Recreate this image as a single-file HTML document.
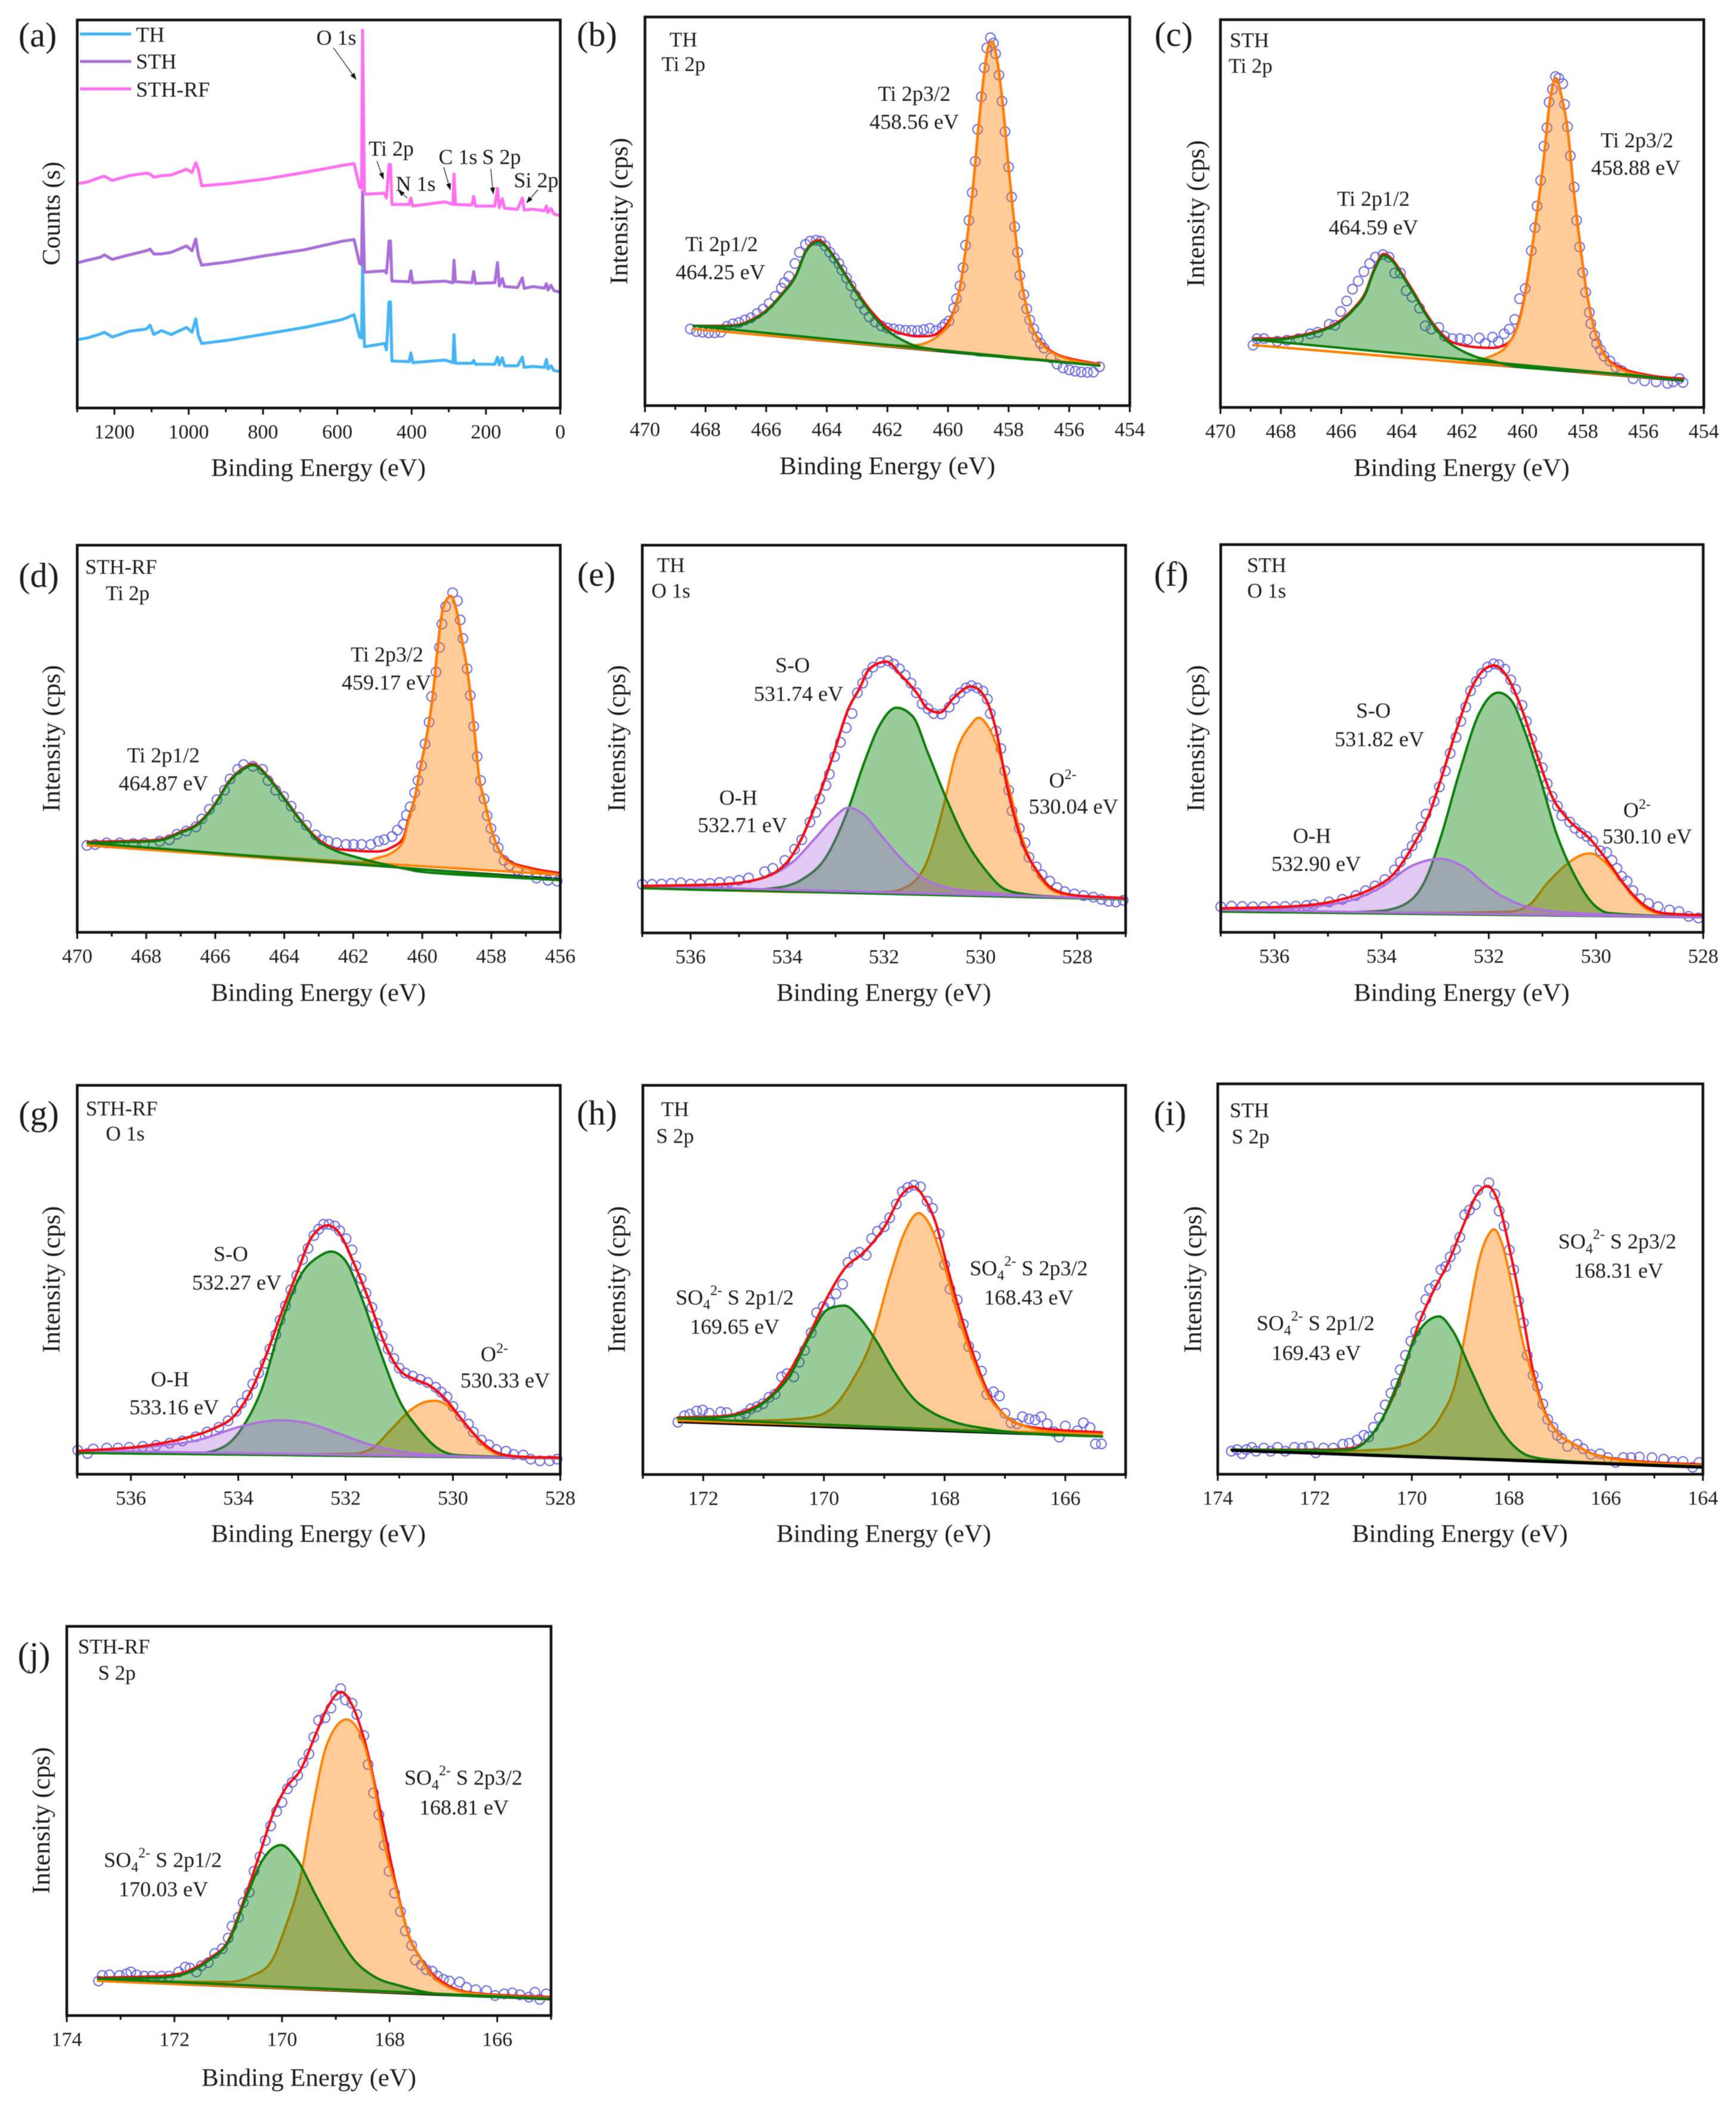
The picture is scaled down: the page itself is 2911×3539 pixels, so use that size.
<!DOCTYPE html>
<html lang="en">
<head>
<meta charset="utf-8">
<title>XPS spectra of TH, STH and STH-RF</title>
<style>
html,body{margin:0;padding:0;background:#fff;}
svg{display:block;filter:blur(0.6px);}
text{font-family:"Liberation Serif",serif;fill:#1c1c1c;}
.ann{font-size:36px;text-anchor:middle;}
.hdr{font-size:35px;text-anchor:middle;}
.ltr{font-size:58px;text-anchor:middle;}
.ttl{font-size:42px;text-anchor:middle;}
.tick{font-size:34px;text-anchor:middle;}
.leg{font-size:36px;}
.sm{font-size:24px;}
.arrow{stroke:#333;stroke-width:1.4;marker-end:url(#arrow-head);}
</style>
</head>
<body>
<svg id="figure" xmlns="http://www.w3.org/2000/svg" width="2911" height="3539" viewBox="0 0 2911 3539">
<defs><marker id="arrow-head" markerWidth="8" markerHeight="6" refX="7.5" refY="3" orient="auto"><path d="M0 0L8 3L0 6z" fill="#111"/></marker></defs>
<rect width="2911" height="3539" fill="#fff"/>
<g id="marks"></g>

<g>
<text class="ltr" x="63" y="78">(a)</text>
<text class="ltr" x="1001" y="77">(b)</text>
<text class="ltr" x="1968" y="77">(c)</text>
<text class="ltr" x="65" y="984">(d)</text>
<text class="ltr" x="1000" y="982">(e)</text>
<text class="ltr" x="1964" y="982">(f)</text>
<text class="ltr" x="65" y="1886">(g)</text>
<text class="ltr" x="1001" y="1885">(h)</text>
<text class="ltr" x="1962" y="1886">(i)</text>
<text class="ltr" x="57" y="2793">(j)</text>
</g>

<g>
<text class="ttl" x="534" y="798" textLength="360" lengthAdjust="spacingAndGlyphs">Binding Energy (eV)</text>
<text class="ttl" x="1488" y="795" textLength="362" lengthAdjust="spacingAndGlyphs">Binding Energy (eV)</text>
<text class="ttl" x="2451" y="798" textLength="362" lengthAdjust="spacingAndGlyphs">Binding Energy (eV)</text>
<text class="ttl" x="534" y="1678" textLength="360" lengthAdjust="spacingAndGlyphs">Binding Energy (eV)</text>
<text class="ttl" x="1482" y="1678" textLength="360" lengthAdjust="spacingAndGlyphs">Binding Energy (eV)</text>
<text class="ttl" x="2451" y="1678" textLength="362" lengthAdjust="spacingAndGlyphs">Binding Energy (eV)</text>
<text class="ttl" x="534" y="2585" textLength="360" lengthAdjust="spacingAndGlyphs">Binding Energy (eV)</text>
<text class="ttl" x="1482" y="2585" textLength="360" lengthAdjust="spacingAndGlyphs">Binding Energy (eV)</text>
<text class="ttl" x="2448" y="2585" textLength="362" lengthAdjust="spacingAndGlyphs">Binding Energy (eV)</text>
<text class="ttl" x="518" y="3497" textLength="360" lengthAdjust="spacingAndGlyphs">Binding Energy (eV)</text>
</g>

<g>
<text class="ttl" transform="translate(100 358) rotate(-90)" textLength="174" lengthAdjust="spacingAndGlyphs">Counts (s)</text>
<text class="ttl" transform="translate(1052 354) rotate(-90)" textLength="246" lengthAdjust="spacingAndGlyphs">Intensity (cps)</text>
<text class="ttl" transform="translate(2019 358) rotate(-90)" textLength="246" lengthAdjust="spacingAndGlyphs">Intensity (cps)</text>
<text class="ttl" transform="translate(100 1238) rotate(-90)" textLength="246" lengthAdjust="spacingAndGlyphs">Intensity (cps)</text>
<text class="ttl" transform="translate(1048 1238) rotate(-90)" textLength="246" lengthAdjust="spacingAndGlyphs">Intensity (cps)</text>
<text class="ttl" transform="translate(2019 1238) rotate(-90)" textLength="246" lengthAdjust="spacingAndGlyphs">Intensity (cps)</text>
<text class="ttl" transform="translate(100 2145) rotate(-90)" textLength="246" lengthAdjust="spacingAndGlyphs">Intensity (cps)</text>
<text class="ttl" transform="translate(1048 2145) rotate(-90)" textLength="246" lengthAdjust="spacingAndGlyphs">Intensity (cps)</text>
<text class="ttl" transform="translate(2014 2145) rotate(-90)" textLength="246" lengthAdjust="spacingAndGlyphs">Intensity (cps)</text>
<text class="ttl" transform="translate(83 3052) rotate(-90)" textLength="246" lengthAdjust="spacingAndGlyphs">Intensity (cps)</text>
</g>

<g>
<line x1="134" y1="57" x2="220" y2="57" stroke="#45b4f5" stroke-width="5"/>
<text class="leg" x="228" y="70">TH</text>
<line x1="134" y1="103" x2="220" y2="103" stroke="#a86fd8" stroke-width="5"/>
<text class="leg" x="228" y="115">STH</text>
<line x1="134" y1="149" x2="220" y2="149" stroke="#ff6ff0" stroke-width="5"/>
<text class="leg" x="228" y="162">STH-RF</text>
</g>

<g>
<text class="ann" x="564" y="75">O 1s</text>
<line class="arrow" x1="559" y1="80" x2="597" y2="133"/>
<text class="ann" x="656" y="261">Ti 2p</text>
<line class="arrow" x1="632" y1="270" x2="643" y2="300"/>
<text class="ann" x="697" y="320">N 1s</text>
<line class="arrow" x1="683" y1="332" x2="668" y2="319"/>
<text class="ann" x="768" y="275">C 1s</text>
<line class="arrow" x1="744" y1="280" x2="755" y2="318"/>
<text class="ann" x="841" y="275">S 2p</text>
<line class="arrow" x1="823" y1="283" x2="827" y2="325"/>
<text class="ann" x="899" y="314">Si 2p</text>
<line class="arrow" x1="902" y1="318" x2="883" y2="340"/>
</g>

<g>
<text class="hdr" x="1146" y="78">TH</text>
<text class="hdr" x="1146" y="119">Ti 2p</text>
<text class="ann" x="1533" y="169">Ti 2p3/2</text>
<text class="ann" x="1533" y="216">458.56 eV</text>
<text class="ann" x="1210" y="421">Ti 2p1/2</text>
<text class="ann" x="1208" y="468">464.25 eV</text>
</g>
<g>
<text class="hdr" x="2095" y="79">STH</text>
<text class="hdr" x="2097" y="122">Ti 2p</text>
<text class="ann" x="2745" y="247">Ti 2p3/2</text>
<text class="ann" x="2743" y="293">458.88 eV</text>
<text class="ann" x="2303" y="345">Ti 2p1/2</text>
<text class="ann" x="2303" y="393">464.59 eV</text>
</g>
<g>
<text class="hdr" x="203" y="962">STH-RF</text>
<text class="hdr" x="214" y="1006">Ti 2p</text>
<text class="ann" x="649" y="1109">Ti 2p3/2</text>
<text class="ann" x="648" y="1156">459.17 eV</text>
<text class="ann" x="274" y="1278">Ti 2p1/2</text>
<text class="ann" x="274" y="1325">464.87 eV</text>
</g>
<g>
<text class="hdr" x="1125" y="959">TH</text>
<text class="hdr" x="1125" y="1002">O 1s</text>
<text class="ann" x="1329" y="1127">S-O</text>
<text class="ann" x="1339" y="1175">531.74 eV</text>
<text class="ann" x="1238" y="1349">O-H</text>
<text class="ann" x="1245" y="1395">532.71 eV</text>
<text class="ann" x="1782" y="1320">O<tspan class="sm" dy="-14">2-</tspan></text>
<text class="ann" x="1800" y="1364">530.04 eV</text>
</g>
<g>
<text class="hdr" x="2124" y="959">STH</text>
<text class="hdr" x="2124" y="1002">O 1s</text>
<text class="ann" x="2303" y="1203">S-O</text>
<text class="ann" x="2313" y="1251">531.82 eV</text>
<text class="ann" x="2200" y="1413">O-H</text>
<text class="ann" x="2207" y="1460">532.90 eV</text>
<text class="ann" x="2745" y="1370">O<tspan class="sm" dy="-14">2-</tspan></text>
<text class="ann" x="2762" y="1414">530.10 eV</text>
</g>
<g>
<text class="hdr" x="204" y="1870">STH-RF</text>
<text class="hdr" x="210" y="1912">O 1s</text>
<text class="ann" x="387" y="2114">S-O</text>
<text class="ann" x="397" y="2162">532.27 eV</text>
<text class="ann" x="285" y="2324">O-H</text>
<text class="ann" x="292" y="2371">533.16 eV</text>
<text class="ann" x="829" y="2282">O<tspan class="sm" dy="-14">2-</tspan></text>
<text class="ann" x="847" y="2326">530.33 eV</text>
</g>
<g>
<text class="hdr" x="1132" y="1871">TH</text>
<text class="hdr" x="1132" y="1916">S 2p</text>
<text class="ann" x="1725" y="2138">SO<tspan class="sm" dy="8">4</tspan><tspan class="sm" dy="-24">2-</tspan><tspan dy="16"> S 2p3/2</tspan></text>
<text class="ann" x="1725" y="2187">168.43 eV</text>
<text class="ann" x="1232" y="2187">SO<tspan class="sm" dy="8">4</tspan><tspan class="sm" dy="-24">2-</tspan><tspan dy="16"> S 2p1/2</tspan></text>
<text class="ann" x="1232" y="2236">169.65 eV</text>
</g>
<g>
<text class="hdr" x="2095" y="1873">STH</text>
<text class="hdr" x="2097" y="1917">S 2p</text>
<text class="ann" x="2712" y="2093">SO<tspan class="sm" dy="8">4</tspan><tspan class="sm" dy="-24">2-</tspan><tspan dy="16"> S 2p3/2</tspan></text>
<text class="ann" x="2714" y="2142">168.31 eV</text>
<text class="ann" x="2206" y="2230">SO<tspan class="sm" dy="8">4</tspan><tspan class="sm" dy="-24">2-</tspan><tspan dy="16"> S 2p1/2</tspan></text>
<text class="ann" x="2207" y="2280">169.43 eV</text>
</g>
<g>
<text class="hdr" x="191" y="2772">STH-RF</text>
<text class="hdr" x="196" y="2816">S 2p</text>
<text class="ann" x="777" y="2992">SO<tspan class="sm" dy="8">4</tspan><tspan class="sm" dy="-24">2-</tspan><tspan dy="16"> S 2p3/2</tspan></text>
<text class="ann" x="778" y="3042">168.81 eV</text>
<text class="ann" x="273" y="3130">SO<tspan class="sm" dy="8">4</tspan><tspan class="sm" dy="-24">2-</tspan><tspan dy="16"> S 2p1/2</tspan></text>
<text class="ann" x="274" y="3179">170.03 eV</text>
</g>
</svg>

<script>
// ---- Tick labels ----
const aTicks=[1200,1000,800,600,400,200,0];
const bTicks=[470,468,466,464,462,460,458,456,454];
const cTicks=[470,468,466,464,462,460,458,456,454];
const dTicks=[470,468,466,464,462,460,458,456];
const eTicks=[536,534,532,530,528];
const fTicks=[536,534,532,530,528];
const gTicks=[536,534,532,530,528];
const hTicks=[172,170,168,166];
const iTicks=[174,172,170,168,166,164];
const jTicks=[174,172,170,168,166];

// ---- (a) Survey: energies in eV, counts in arbitrary units ----
const aEnergy=[1300,1273,1237,1227,1206,1160,1114,1104,1094,1073,1047,1006,991,981,974,965,894,791,689,586,555,540,535,532,527,525,473,468,465,461,457,453,407,402,397,310,289,286,282,238,233,228,176,169,164,156,150,115,102,97,74,43,37,33,25,17,0];
const aSthRf=[702,707,722,725,712,727,735,732,722,727,729,747,737,767,747,695,702,717,737,759,765,692,687,1182,677,669,672,657,697,762,762,637,637,657,632,645,637,732,637,635,662,632,632,687,627,655,625,622,657,619,622,617,632,612,624,607,602];
const aSth=[454,462,472,479,465,479,492,497,482,482,487,507,492,529,477,447,457,477,495,522,527,452,449,677,425,425,429,422,457,522,522,397,395,429,392,397,392,462,395,392,427,390,392,455,382,405,380,377,407,374,380,375,389,369,384,367,362];
const aTh=[214,219,232,237,222,240,247,259,230,242,230,252,237,279,227,202,212,232,252,277,292,222,219,447,192,192,202,182,237,332,332,147,145,172,142,150,142,229,140,140,149,137,137,159,135,157,132,132,159,127,130,127,152,122,132,117,114];

// ---- (b) TH Ti 2p ----
const bBaseE=[468.4,455];
const bBaseC=[240,125];
const bFitE=[468.4,467.5,467,466.5,466,465.5,465,464.7,464.4,464.25,464,463.7,463.4,463,462.5,462,461.5,461,460.6,460.3,460,459.8,459.6,459.4,459.2,459,458.8,458.65,458.55,458.4,458.2,458,457.8,457.6,457.4,457.2,457,456.7,456.4,456,455.5,455];
const bGreen=[250,248,250,265,295,345,410,480,510,513,495,455,410,350,285,235,205,185,178,173,170,168,166,164,162,158,157,156,155,154,152,150,149,147,145,144,143,140,137,134,130,125];
const bOrange=[240,233,228,224,220,216,212,209,207,206,204,201,199,196,192,190,188,190,202,220,252,295,370,500,660,865,1045,1130,1140,1095,950,745,560,405,305,240,205,175,158,145,135,128];
const bRed=[250,250,252,268,298,348,413,483,515,518,498,458,413,355,292,245,225,217,218,230,260,298,372,500,660,865,1045,1130,1140,1095,950,745,560,405,305,240,207,178,160,148,138,130];
const bScanE=[468.5,468.3,468.1,467.9,467.7,467.5,467.3,467.1,466.9,466.7,466.5,466.3,466.1,465.9,465.7,465.5,465.4,465.25,465.05,464.9,464.7,464.55,464.35,464.2,464.05,463.9,463.75,463.6,463.5,463.35,463.2,463.05,462.9,462.75,462.6,462.4,462.2,462,461.8,461.6,461.4,461.2,461,460.8,460.6,460.4,460.2,460.1,459.97,459.81,459.72,459.6,459.5,459.42,459.31,459.2,459.1,459.02,458.9,458.8,458.72,458.6,458.5,458.43,458.32,458.22,458.12,458,457.9,457.8,457.7,457.63,457.5,457.4,457.3,457.17,457.06,456.95,456.83,456.6,456.4,456.2,456,455.8,455.6,455.4,455.2,455];
const bScanC=[240,232,230,228,228,230,248,256,260,268,275,288,302,320,342,368,385,405,445,480,505,515,518,515,500,480,462,445,425,400,375,345,320,300,278,262,250,243,240,238,236,236,235,238,242,235,245,255,265,305,335,375,432,502,580,667,765,865,967,1058,1120,1152,1135,1102,1035,953,858,747,653,560,480,408,348,303,268,240,215,195,180,150,130,118,112,108,105,104,105,122];

// ---- (c) STH Ti 2p ----
const cBaseE=[468.94,454.69];
const cBaseC=[195,83];
const cFitE=[468.9,468,467.5,467,466.5,466,465.6,465.2,464.9,464.6,464.3,464,463.6,463.2,462.8,462.4,462,461.5,461,460.5,460,459.6,459.3,459.1,458.9,458.7,458.5,458.3,458.1,457.9,457.7,457.5,457.2,456.9,456.5,456,455.5,454.7];
const cGreen=[212,213,220,230,245,270,305,355,430,475,457,415,355,290,237,200,177,157,145,133,125,122,120,118,117,116,115,114,113,112,111,110,107,105,102,98,92,85];
const cOrange=[195,188,184,180,176,172,169,166,163,161,158,156,153,150,147,144,140,148,162,195,310,555,775,955,1030,970,865,675,515,375,275,210,150,127,110,100,92,85];
const cRed=[216,216,223,233,248,274,309,360,435,480,462,420,360,295,243,208,195,188,186,200,315,555,775,955,1030,970,865,675,515,375,275,210,153,132,115,104,96,90];
const cScanE=[468.92,468.79,468.56,468.12,467.8,467.42,467.03,466.78,466.4,466.21,466.02,465.82,465.63,465.44,465.25,465.06,464.87,464.62,464.42,464.23,464.04,463.85,463.66,463.41,463.22,463.02,462.77,462.58,462.32,462.07,461.82,461.43,461.24,460.99,460.8,460.61,460.44,460.26,460.1,459.91,459.71,459.59,459.52,459.4,459.29,459.19,459.12,459.01,458.91,458.8,458.67,458.61,458.51,458.42,458.29,458.21,458.11,458.01,457.91,457.79,457.74,457.61,457.55,457.42,457.3,457.11,456.91,456.72,456.34,455.96,455.58,455.2,455.01,454.81,454.69];
const cScanC=[195,215,215,207,210,215,230,235,260,257,300,333,370,395,425,450,470,478,470,420,420,365,345,310,255,245,250,223,215,215,212,217,200,220,205,230,245,275,340,372,490,562,630,710,817,875,955,995,1035,1030,1013,948,878,787,689,585,502,422,360,297,262,225,200,180,160,145,125,115,90,83,80,75,80,90,78];

// ---- (d) STH-RF Ti 2p ----
const dBaseE=[469.72,456];
const dBaseC=[272,167];
const dFitE=[469.7,468.5,468,467.5,467,466.5,466,465.6,465.2,464.9,464.5,464,463.5,463,462.5,462,461.3,460.9,460.55,460.4,460.2,460.05,459.9,459.7,459.55,459.4,459.17,459,458.85,458.7,458.5,458.35,458.2,458,457.8,457.5,456.8,456];
const dGreen=[280,283,284,290,312,338,400,470,510,523,488,418,345,285,255,238,218,208,200,197,192,190,188,186,185,184,182,181,180,179,178,177,176,175,174,172,168,163];
const dOrange=[272,263,259,255,251,248,244,241,238,235,232,228,224,221,217,216,233,248,285,350,425,515,595,735,895,1015,1053,1005,915,825,645,485,415,325,260,220,195,180];
const dRed=[283,286,287,293,315,341,403,473,513,527,491,421,348,290,262,256,253,265,295,355,428,518,597,737,895,1015,1053,1005,915,825,645,485,415,325,262,224,200,185];
const dScanE=[469.72,469.48,469.15,468.77,468.38,468.05,467.61,467.33,467.11,466.84,466.56,466.39,466.17,465.95,465.73,465.57,465.35,465.18,464.91,464.63,464.47,464.25,464.02,463.8,463.58,463.36,463.09,462.92,462.73,462.48,462.21,461.99,461.76,461.49,461.27,461.1,460.88,460.72,460.55,460.46,460.35,460.22,460.12,460.02,459.92,459.8,459.73,459.6,459.5,459.43,459.32,459.12,458.98,458.9,458.82,458.7,458.61,458.51,458.41,458.31,458.21,458.12,458.01,457.91,457.8,457.63,457.47,457.25,456.97,456.69,456.36,456.09];
const dScanC=[272,275,280,280,278,280,285,290,307,317,330,355,385,415,445,480,510,525,520,510,475,445,425,395,360,335,305,290,285,280,275,275,275,275,285,290,300,320,338,367,393,437,475,522,590,658,738,815,892,965,1020,1063,1038,978,920,825,742,645,550,475,418,365,325,290,265,225,210,195,185,170,163,160];

// ---- (e) TH O 1s ----
const eBaseE=[537,527];
const eBaseC=[140,107];
const eRedE=[537,535.4,534.63,534,533.7,533.4,533.05,532.75,532.5,532.3,531.95,531.65,531.3,531.1,530.85,530.55,530.2,529.95,529.7,529.45,529.15,528.8,528.5,528,527];
const eRedC=[147,152,167,222,297,407,557,697,767,827,849,807,747,702,690,737,772,747,647,457,287,187,137,117,109];
const eGreenE=[537,535,534.2,533.7,533.2,532.74,532.4,532.1,531.74,531.4,531.1,530.7,530.3,529.9,529.5,529.1,528.3,527];
const eGreenC=[140,133,142,167,237,387,537,647,705,677,567,417,287,197,137,122,112,105];
const eOrangeE=[537,533,531.9,531.5,531.1,530.8,530.5,530.2,530.04,529.85,529.5,529.2,528.9,528.6,528.3,527.5,527];
const eOrangeC=[140,127,129,147,227,377,567,652,674,647,507,327,207,142,122,112,107];
const ePurpleE=[537,535.4,534.63,533.85,533.45,533.06,532.74,532.43,532.04,531.64,531.25,530.7,529.93,529.1,527];
const ePurpleC=[147,152,167,227,292,357,392,372,302,232,177,142,127,117,107];
const eScanE=[537,536.8,536.6,536.4,536.2,536,535.8,535.6,535.4,535.2,535,534.8,534.47,534.3,534.05,533.85,533.7,533.53,533.41,533.33,533.2,533.13,533.02,532.9,532.78,532.66,532.55,532.44,532.35,532.23,532.07,531.92,531.8,531.68,531.56,531.44,531.33,531.21,531.09,530.97,530.81,530.65,530.54,530.42,530.3,530.19,530.07,529.95,529.86,529.8,529.68,529.58,529.5,529.42,529.35,529.2,529.08,529,528.85,528.73,528.57,528.42,528.26,528.06,527.87,527.67,527.5,527.35,527.2,527.05];
const eScanC=[152,152,153,155,157,153,153,155,158,160,165,172,192,202,227,262,292,347,377,420,462,497,552,597,642,687,752,782,812,832,847,852,842,827,807,782,752,717,702,687,685,707,732,752,767,774,767,757,732,687,632,577,507,447,382,327,282,237,207,182,162,142,129,122,117,112,105,99,97,102];

// ---- (f) STH O 1s ----
const fBaseE=[537,528];
const fBaseC=[65,47];
const fRedE=[537,535.77,534.7,534.2,533.76,533.4,533.1,532.9,532.6,532.32,532.1,531.9,531.68,531.4,531.1,530.82,530.53,530.1,529.75,529.45,529.1,528.75,528];
const fRedC=[75,80,105,135,185,275,375,475,635,765,820,835,805,705,555,425,355,290,215,145,85,60,53];
const fGreenE=[537,535,534.04,533.6,533.18,532.9,532.54,532.18,531.96,531.82,531.6,531.32,531.03,530.75,530.39,530.03,529.75,528];
const fGreenC=[65,62,67,85,165,295,505,685,740,750,730,625,475,315,175,85,60,47];
const fOrangeE=[537,533,531.6,531.25,530.9,530.53,530.3,530.1,529.9,529.6,529.3,529.03,528.6,528];
const fOrangeC=[65,61,65,85,155,215,240,247,230,175,110,70,53,47];
const fPurpleE=[537,535.77,534.7,533.97,533.47,532.9,532.47,531.96,531.46,530.75,529.7,528];
const fPurpleC=[70,75,95,145,205,230,205,135,90,65,55,47];
const fScanE=[537,536.8,536.6,536.4,536.2,536,535.8,535.6,535.4,535.26,534.98,534.73,534.48,534.3,534.12,533.94,533.76,533.65,533.54,533.43,533.34,533.26,533.17,533.02,532.92,532.81,532.72,532.61,532.52,532.43,532.34,532.23,532.13,532.02,531.91,531.81,531.7,531.59,531.5,531.38,531.3,531.2,531.1,531,530.91,530.82,530.72,530.64,530.49,530.39,530.28,530.17,530.06,529.92,529.8,529.7,529.61,529.52,529.42,529.31,529.17,529.02,528.84,528.63,528.45,528.27,528.09];
const fScanC=[80,82,81,80,80,80,81,82,84,87,95,103,115,130,145,165,195,220,245,270,295,330,370,410,455,505,560,610,660,705,755,785,810,830,840,837,823,790,760,710,660,605,553,515,465,425,395,365,345,325,310,300,285,255,250,225,200,175,160,130,105,90,80,70,65,50,45];

// ---- (g) STH-RF O 1s ----
const gBaseE=[537,528];
const gBaseC=[67,50];
const gRedE=[537,535.6,534.9,534.47,534.05,533.76,533.48,533.2,532.9,532.63,532.33,532.13,531.85,531.56,531.28,531,530.71,530.43,530.15,529.79,529.44,529.08,528.66,528];
const gRedC=[72,92,117,142,187,262,372,502,632,742,779,757,662,542,412,327,297,277,237,162,97,62,54,52];
const gGreenE=[537,535.5,534.68,534.26,533.9,533.55,533.2,532.84,532.49,532.27,532.02,531.7,531.35,531,530.64,530.29,529.93,528];
const gGreenC=[67,64,67,87,152,272,472,622,682,697,672,552,382,232,142,82,60,50];
const gOrangeE=[537,533,531.85,531.5,531.14,530.78,530.5,530.33,530.07,529.72,529.37,529.08,528];
const gOrangeC=[67,62,64,82,142,202,227,230,212,147,82,60,50];
const gPurpleE=[537,535.6,534.75,533.9,533.23,532.77,532.2,531.63,531,529.93,528];
const gPurpleC=[74,87,107,152,169,162,132,97,72,57,50];
const gScanE=[536.99,536.81,536.7,536.45,536.24,536.03,535.78,535.53,535.28,535.04,534.79,534.58,534.36,534.19,534.04,533.94,533.83,533.73,533.62,533.5,533.41,533.3,533.22,533.12,533.02,532.91,532.8,532.7,532.59,532.5,532.41,532.31,532.2,532.11,531.99,531.88,531.81,531.71,531.62,531.51,531.41,531.32,531.21,531.1,531,530.89,530.75,530.61,530.47,530.32,530.22,530.11,530,529.86,529.71,529.62,529.47,529.33,529.19,529.01,528.87,528.69,528.55,528.38,528.2,528.06];
const gScanC=[75,65,79,82,82,84,87,90,97,104,117,132,147,167,197,222,247,282,317,347,392,437,482,527,577,622,672,707,747,767,782,782,777,762,737,702,652,612,567,522,472,432,392,362,332,317,307,297,287,272,257,242,212,182,157,132,107,92,77,72,62,60,47,42,42,47];

// ---- (h) TH S 2p ----
const hBaseE=[172.42,165.39];
const hBaseC=[164,119];
const hRedE=[172.42,171.75,171.3,170.87,170.55,170.23,169.92,169.66,169.32,168.97,168.72,168.52,168.33,168.14,167.96,167.77,167.52,167.27,167.02,166.7,166.07,165.39];
const hRedC=[179,182,199,249,329,444,564,644,699,784,874,902,864,784,654,524,374,254,189,154,139,132];
const hGreenE=[172.42,171.75,171.3,170.87,170.55,170.23,169.92,169.66,169.4,169.15,168.84,168.52,168.2,167.83,167.32,166.7,165.39];
const hGreenC=[176,179,194,244,314,434,519,529,489,424,324,239,194,164,144,129,119];
const hOrangeE=[172.42,171.1,170.47,170.1,169.78,169.53,169.2,168.9,168.65,168.43,168.25,168.02,167.77,167.52,167.27,167.02,166.7,166.2,165.39];
const hOrangeC=[169,169,174,184,224,294,424,624,764,819,784,664,494,354,244,189,154,134,126];
const hScanE=[172.42,172.31,172.22,172.11,172.01,171.9,171.71,171.61,171.4,171.3,171.21,171.11,171.01,170.91,170.81,170.7,170.61,170.5,170.41,170.32,170.21,170.12,170.01,169.9,169.8,169.69,169.6,169.5,169.41,169.3,169.21,169.11,169,168.91,168.8,168.7,168.61,168.51,168.4,168.29,168.2,168.09,168,167.91,167.79,167.69,167.6,167.49,167.39,167.3,167.19,167.09,167,166.9,166.8,166.71,166.6,166.5,166.4,166.3,166.19,166.1,166,165.8,165.7,165.59,165.5,165.4];
const hScanC=[164,184,189,199,202,192,196,194,182,191,206,212,222,242,252,306,316,306,352,389,444,507,526,539,566,596,664,686,696,687,739,762,776,804,847,886,899,906,901,856,834,754,657,581,547,471,401,371,324,251,259,246,192,162,159,181,174,171,181,159,134,117,152,137,162,147,96,96];

// ---- (i) STH S 2p ----
const iBaseE=[173.72,164];
const iBaseC=[75,22];
const iRedE=[173.72,171.78,171.23,170.83,170.51,170.2,169.88,169.56,169.25,168.93,168.65,168.44,168.22,167.98,167.74,167.5,167.26,167.03,166.63,166.23,165.44,164];
const iRedC=[77,77,82,122,202,312,462,572,662,782,877,902,852,702,522,322,197,137,92,62,42,30];
const iGreenE=[173.72,171.78,171.3,170.99,170.6,170.2,169.88,169.44,169.17,168.77,168.37,167.98,167.58,167.03,164];
const iGreenC=[77,75,77,97,177,322,442,494,452,322,192,102,57,44,24];
const iOrangeE=[173.72,171.78,170.67,170.2,169.8,169.4,169.09,168.85,168.61,168.41,168.31,168.14,167.94,167.74,167.5,167.26,167.03,166.63,166.23,165.44,164];
const iOrangeC=[75,72,77,87,112,182,292,482,672,752,767,722,592,432,302,192,137,92,62,40,27];
const iScanE=[173.72,173.6,173.5,173.41,173.3,173.21,173.05,172.91,172.77,172.61,172.42,172.26,172.11,171.98,171.82,171.62,171.42,171.29,171.13,170.99,170.89,170.79,170.67,170.55,170.43,170.33,170.24,170.13,170.02,169.92,169.82,169.71,169.63,169.51,169.4,169.3,169.21,169.1,169.01,168.91,168.81,168.69,168.64,168.41,168.29,168.2,168.1,167.99,167.9,167.8,167.7,167.62,167.5,167.41,167.3,167.2,167.09,167,166.91,166.79,166.59,166.47,166.31,166.12,165.96,165.8,165.64,165.48,165.31,165.05,164.81,164.61,164.41,164.21,164.08];
const iScanC=[72,77,64,77,84,72,82,72,84,72,84,82,87,67,82,82,94,97,107,122,117,147,177,217,254,284,327,372,417,447,494,547,580,592,640,650,680,704,742,812,827,844,889,912,877,824,777,702,640,542,474,372,310,275,220,172,147,122,112,87,94,80,62,64,52,37,52,52,54,52,47,40,40,22,37];

// ---- (j) STH-RF S 2p ----
const jBaseE=[173.42,165];
const jBaseC=[107,50];
const jRedE=[173.42,172.27,171.85,171.35,171,170.72,170.43,170.15,169.94,169.65,169.37,169.16,168.9,168.7,168.45,168.17,167.88,167.63,167.46,167.25,166.9,166.4,165];
const jRedC=[117,122,132,177,232,352,492,632,702,762,872,952,1002,962,842,632,402,242,187,137,92,69,57];
const jGreenE=[173.42,172.27,171.85,171.35,171,170.65,170.36,170.02,169.72,169.37,169.01,168.66,168.3,167.8,167.1,165];
const jGreenC=[114,117,127,172,227,372,482,528,482,372,262,172,122,92,67,52];
const jOrangeE=[173.42,171,170.57,170.22,169.94,169.65,169.44,169.16,168.8,168.55,168.31,168.1,167.88,167.67,167.46,167.25,166.9,166.4,165];
const jOrangeC=[107,104,122,162,272,432,632,842,917,872,732,532,392,262,187,132,87,67,54];
const jScanE=[173.41,173.34,173.21,173.02,172.89,172.81,172.7,172.56,172.42,172.24,172.1,171.92,171.8,171.71,171.59,171.5,171.37,171.25,171.11,171,170.93,170.81,170.72,170.61,170.52,170.41,170.31,170.21,170.1,170,169.9,169.81,169.71,169.61,169.5,169.41,169.32,169.2,169.09,169,168.91,168.82,168.7,168.61,168.48,168.4,168.3,168.2,168.1,168.01,167.91,167.8,167.71,167.59,167.52,167.41,167.32,167.21,167.11,167,166.89,166.7,166.57,166.4,166.2,166.04,165.87,165.72,165.58,165.41,165.3,165.21,165.09];
const jScanC=[107,124,126,124,129,135,126,122,122,122,122,135,150,147,135,154,164,192,207,240,277,304,350,382,447,492,542,587,632,660,702,722,744,782,810,862,914,922,952,992,1012,977,967,932,867,777,689,622,527,447,379,322,262,217,172,157,142,137,122,112,107,104,87,80,77,62,67,70,64,57,72,50,67];

// ---- Panels: frame geometry and references to the data arrays ----
const panels=[
 {id:'b',l:1081.5,r:1894.5,t:28.5,b:680,hi:470,lo:454,max:1217,minor:1,ticks:bTicks,base:[bBaseE,bBaseC],red:[bFitE,bRed],orange:[bFitE,bOrange],green:[bFitE,bGreen],scan:[bScanE,bScanC]},
 {id:'c',l:2046.5,r:2857,t:33,b:683,hi:470,lo:454,max:1213,minor:1,ticks:cTicks,base:[cBaseE,cBaseC],red:[cFitE,cRed],orange:[cFitE,cOrange],green:[cFitE,cGreen],scan:[cScanE,cScanC]},
 {id:'d',l:129.5,r:939.5,t:914,b:1563,hi:470,lo:456,max:1212,minor:1,ticks:dTicks,base:[dBaseE,dBaseC],red:[dFitE,dRed],orange:[dFitE,dOrange],green:[dFitE,dGreen],scan:[dScanE,dScanC]},
 {id:'e',l:1077,r:1887.5,t:914,b:1564,hi:537,lo:527,max:1214,minor:1,ticks:eTicks,base:[eBaseE,eBaseC],red:[eRedE,eRedC],orange:[eOrangeE,eOrangeC],green:[eGreenE,eGreenC],purple:[ePurpleE,ePurpleC],scan:[eScanE,eScanC]},
 {id:'f',l:2047,r:2856,t:913,b:1563,hi:537,lo:528,max:1213,minor:1,ticks:fTicks,base:[fBaseE,fBaseC],red:[fRedE,fRedC],orange:[fOrangeE,fOrangeC],green:[fGreenE,fGreenC],purple:[fPurpleE,fPurpleC],scan:[fScanE,fScanC]},
 {id:'g',l:129.5,r:939.5,t:1819.5,b:2471.5,hi:537,lo:528,max:1217,minor:1,ticks:gTicks,base:[gBaseE,gBaseC],red:[gRedE,gRedC],orange:[gOrangeE,gOrangeC],green:[gGreenE,gGreenC],purple:[gPurpleE,gPurpleC],scan:[gScanE,gScanC]},
 {id:'h',l:1078,r:1887.5,t:1819.5,b:2472,hi:173,lo:165,max:1219,minor:1,ticks:hTicks,base:[hBaseE,hBaseC],red:[hRedE,hRedC],orange:[hOrangeE,hOrangeC],green:[hGreenE,hGreenC],scan:[hScanE,hScanC]},
 {id:'i',l:2042,r:2855.5,t:1817,b:2471.5,hi:174,lo:164,max:1222,minor:1,ticks:iTicks,base:[iBaseE,iBaseC],baseOnTop:true,red:[iRedE,iRedC],orange:[iOrangeE,iOrangeC],green:[iGreenE,iGreenC],scan:[iScanE,iScanC]},
 {id:'j',l:112,r:924,t:2726.5,b:3379,hi:174,lo:165,max:1205,minor:1,ticks:jTicks,base:[jBaseE,jBaseC],red:[jRedE,jRedC],orange:[jOrangeE,jOrangeC],green:[jGreenE,jGreenC],scan:[jScanE,jScanC]}
];
const survey={id:'a',l:129.5,r:939.5,t:33.5,b:684,hi:1300,lo:0,max:1214,minor:100,ticks:aTicks};

const SVGNS='http://www.w3.org/2000/svg';
const root=document.getElementById('marks');

function node(parent,tag,attrs){
  const el=document.createElementNS(SVGNS,tag);
  for(const k in attrs){el.setAttribute(k,attrs[k]);}
  parent.appendChild(el);
  return el;
}
function xAxis(p){return e=>p.l+(p.hi-e)/(p.hi-p.lo)*(p.r-p.l);}
function yAxis(p){return c=>p.b-c/p.max*(p.b-p.t);}

// Monotone cubic path through the points (no overshoot around peaks).
function smoothPath(px,py){
  const n=px.length;
  if(n<3){return 'M'+px[0]+' '+py[0]+'L'+px[n-1]+' '+py[n-1];}
  const h=[],s=[],m=[];
  for(let i=0;i<n-1;i++){
    h.push((px[i+1]-px[i])||1);
    s.push((py[i+1]-py[i])/h[i]);
  }
  m.push(s[0]);
  for(let i=1;i<n-1;i++){
    const p=(s[i-1]*h[i]+s[i]*h[i-1])/(h[i-1]+h[i]);
    const sign=(Math.sign(s[i-1])+Math.sign(s[i]));
    m.push(sign*Math.min(Math.abs(s[i-1]),Math.abs(s[i]),0.5*Math.abs(p)));
  }
  m.push(s[n-2]);
  let d='M'+px[0].toFixed(1)+' '+py[0].toFixed(1);
  for(let i=0;i<n-1;i++){
    const k=h[i]/3;
    d+='C'+(px[i]+k).toFixed(1)+' '+(py[i]+m[i]*k).toFixed(1)+' '+(px[i+1]-k).toFixed(1)+' '+(py[i+1]-m[i+1]*k).toFixed(1)+' '+px[i+1].toFixed(1)+' '+py[i+1].toFixed(1);
  }
  return d;
}

function drawFrame(p){
  const g=node(root,'g',{});
  
  
  const X=xAxis(p);
  const step=p.minor;
  for(let v=p.lo;v<=p.hi;v+=step){
    if(p.ticks.indexOf(v)>=0){continue;}
    const m=node(g,'line',{x1:X(v),x2:X(v),y1:p.b,y2:p.b+7,stroke:'#111','stroke-width':3});
    
    
  }
  p.ticks.forEach(v=>{
    const t=node(g,'line',{x1:X(v),x2:X(v),y1:p.b,y2:p.b+11,stroke:'#111','stroke-width':3});
    
    
    const lab=node(g,'text',{x:X(v),y:p.b+51,class:'tick'});
    
    
    lab.textContent=String(v);
  });
  const fr=node(g,'rect',{x:p.l,y:p.t,width:p.r-p.l,height:p.b-p.t,fill:'none',stroke:'#111','stroke-width':4.5});
  
  
}

function drawCurve(g,p,series,stroke,width,fill,label){
  const X=xAxis(p),Y=yAxis(p);
  const px=series[0].map(X),py=series[1].map(Y);
  const d=smoothPath(px,py);
  if(fill){
    const area=node(g,'path',{d:d+'Z',fill:fill,stroke:stroke,'stroke-width':width,'stroke-linejoin':'round'});
    
    
    return;
  }
  const line=node(g,'path',{d:d,fill:'none',stroke:stroke,'stroke-width':width,'stroke-linejoin':'round','stroke-linecap':'round'});
  
  
}

function drawBaseline(g,p,width){
  const X=xAxis(p),Y=yAxis(p);
  const b=node(g,'line',{x1:X(p.base[0][0]),y1:Y(p.base[1][0]),x2:X(p.base[0][1]),y2:Y(p.base[1][1]),stroke:'#000','stroke-width':width});
  
  
}

function drawPanel(p){
  const g=node(root,'g',{});
  
  
  const X=xAxis(p),Y=yAxis(p);
  drawBaseline(g,p,3.5);
  p.scan[0].forEach((e,i)=>{
    const c=node(g,'circle',{cx:X(e).toFixed(1),cy:Y(p.scan[1][i]).toFixed(1),r:8,fill:'none',stroke:'#6565e6','stroke-width':2});
    
    
  });
  drawCurve(g,p,p.red,'#f20f14',4.2,null,'envelope-fit');
  drawCurve(g,p,p.orange,'#ff8000',3.8,'rgba(255,128,0,.4)','peak-orange');
  drawCurve(g,p,p.green,'#0c7d0c',4,'rgba(0,128,0,.4)','peak-green');
  if(p.purple){drawCurve(g,p,p.purple,'#ae6fe0',3.8,'rgba(170,100,220,.35)','peak-purple');}
  if(p.id==='e'||p.id==='f'||p.id==='g'){drawCurve(g,p,p.red,'#f20f14',4.2,null,'envelope-fit-top');}
  if(p.baseOnTop){drawBaseline(g,p,5);}
}

function drawSurvey(){
  const p=survey;
  const g=node(root,'g',{});
  
  
  const X=xAxis(p),Y=yAxis(p);
  function trace(values,color,label){
    const pts=aEnergy.map((e,i)=>X(e).toFixed(1)+','+Y(values[i]).toFixed(1)).join(' ');
    const l=node(g,'polyline',{points:pts,fill:'none',stroke:color,'stroke-width':5,'stroke-linejoin':'round'});
    
    
  }
  trace(aTh,'#45b4f5','series-th');
  trace(aSth,'#a86fd8','series-sth');
  trace(aSthRf,'#ff6ff0','series-sth-rf');
}

drawSurvey();
panels.forEach(drawPanel);
drawFrame(survey);
panels.forEach(drawFrame);
</script>
</body>
</html>
